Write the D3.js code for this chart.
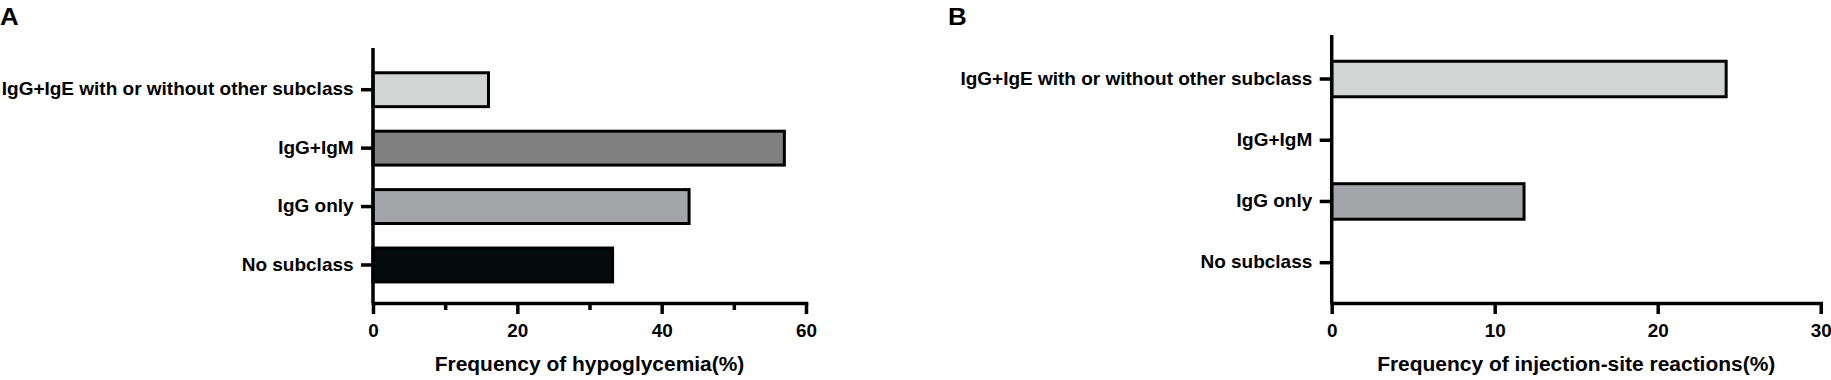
<!DOCTYPE html>
<html>
<head>
<meta charset="utf-8">
<script src="https://cdn.jsdelivr.net/npm/d3@7"></script>
<style>
  body { margin: 0; background: #fff; }
  svg { display: block; font-family: "Liberation Sans", Arial, sans-serif; font-weight: bold; }
  .axis path, .axis line { stroke: #000; stroke-width: 3.5; }
  .axis text { fill: #000; font-size: 17.5px; font-family: "Liberation Sans", Arial, sans-serif; font-weight: bold; }
</style>
</head>
<body>
<svg id="chart" width="1831" height="380"></svg>
<script>
// categories, top to bottom
let categories = ["IgG+IgE with or without other subclass", "IgG+IgM", "IgG only", "No subclass"]
let bar_colors = ["#d3d5d4", "#808080", "#a4a5a8", "#050a0b"]

// panel A: hypoglycemia
let hypo_values = [16.0, 57.0, 43.8, 33.2]
let hypo_ticks = [0, 20, 40, 60]
let hypo_minor = [10, 30, 50]

// panel B: injection-site reactions
let inj_values = [24.2, 0, 11.8, 0]
let inj_ticks = [0, 10, 20, 30]
let inj_minor = []

let sx = 1.08  // text in the figure is a bit wider than tall

function draw_panel(svg, p) {
  let g = svg.append("g")

  let x = d3.scaleLinear()
    .domain([0, p.max])
    .range([p.left, p.right])

  let y = d3.scaleBand()
    .domain(categories)
    .range([p.band_top, p.band_bottom])

  let rows = categories.map((c, i) => ({cat: c, value: p.values[i], color: bar_colors[i]}))
  let h = y.step() * 0.58

  g.append("g")
    .selectAll("rect")
    .data(rows.filter(d => d.value > 0)).enter()
    .append("rect")
    .attr("x", x(0))
    .attr("y", d => y(d.cat) + y.step() / 2 - h / 2)
    .attr("width", d => x(d.value) - x(0))
    .attr("height", h)
    .attr("fill", d => d.color)
    .attr("stroke", "#000")
    .attr("stroke-width", 3)

  // y axis line
  g.append("line")
    .attr("x1", x(0)).attr("x2", x(0))
    .attr("y1", p.top).attr("y2", p.bottom)
    .attr("stroke", "#000")
    .attr("stroke-width", 3.5)

  let y_axis = d3.axisLeft(y).tickSize(12).tickPadding(6).tickSizeOuter(0)
  let ya = g.append("g")
    .attr("class", "axis")
    .attr("transform", `translate(${x(0)}, 0)`)
    .call(y_axis)
  ya.select(".domain").remove()
  ya.selectAll("text").attr("transform", `scale(${sx},1)`).style("font-size", (19 / sx) + "px")

  // minor ticks
  g.append("g")
    .attr("class", "axis")
    .attr("transform", `translate(0, ${p.bottom})`)
    .call(d3.axisBottom(x).tickValues(p.minor).tickSize(7).tickFormat(""))
    .select(".domain").remove()

  let x_axis = d3.axisBottom(x).tickValues(p.ticks).tickSize(11).tickPadding(11).tickSizeOuter(0)
  let xa = g.append("g")
    .attr("class", "axis")
    .attr("transform", `translate(0, ${p.bottom})`)
    .call(x_axis)
  xa.select(".domain").attr("stroke-linecap", "square")
  xa.selectAll("text").attr("transform", `scale(${sx},1)`)

  g.append("text")
    .attr("transform", `translate(${(p.left + p.right) / 2}, 371) scale(${sx},1)`)
    .attr("text-anchor", "middle")
    .attr("font-size", 19.4)
    .text(p.title)

  g.append("text")
    .attr("transform", `translate(${p.letter_x}, 25) scale(${sx},1)`)
    .attr("font-size", 24)
    .text(p.letter)
}

let svg = d3.select("#chart")

draw_panel(svg, {
  letter: "A", letter_x: 0,
  title: "Frequency of hypoglycemia(%)",
  values: hypo_values, max: 60, ticks: hypo_ticks, minor: hypo_minor,
  left: 373, right: 806, top: 48, bottom: 303,
  band_top: 60.5, band_bottom: 294.2
})

draw_panel(svg, {
  letter: "B", letter_x: 948,
  title: "Frequency of injection-site reactions(%)",
  values: inj_values, max: 30, ticks: inj_ticks, minor: inj_minor,
  left: 1331.7, right: 1820.7, top: 35, bottom: 303,
  band_top: 48.4, band_bottom: 293.3
})
</script>
</body>
</html>
